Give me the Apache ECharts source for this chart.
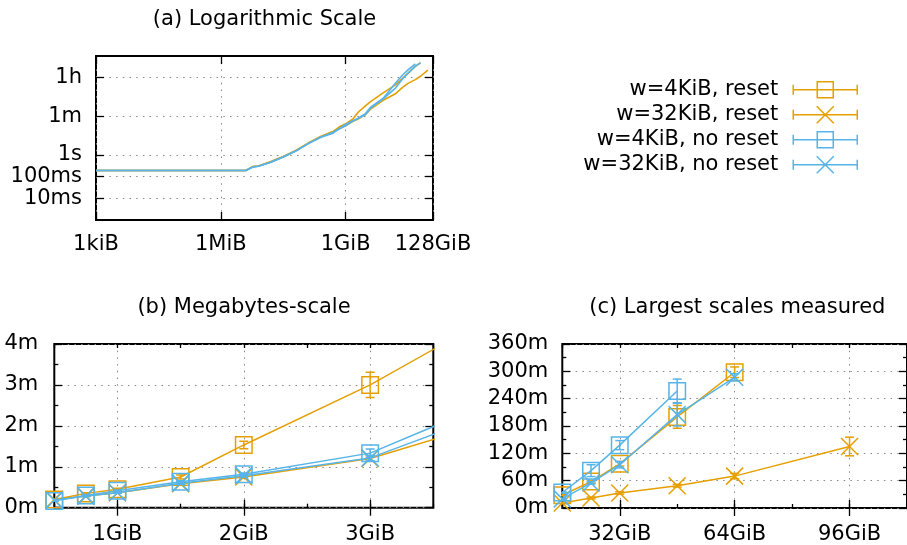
<!DOCTYPE html>
<html><head><meta charset="utf-8">
<script src="https://cdn.jsdelivr.net/npm/echarts@6/dist/echarts.min.js"></script>
<style>html,body{margin:0;padding:0;background:#fff}#c{width:907px;height:545px}</style>
</head><body><div id="c"></div>
<script>
// ---------------- DATA ----------------
const seriesNames = ['w=4KiB, reset', 'w=32KiB, reset', 'w=4KiB, no reset', 'w=32KiB, no reset'];
// problem sizes in KiB
const sizeKiB = [1, 4, 16, 64, 256, 1024, 4096, 6144, 8192, 16384, 32768, 65536, 131072, 262144,
  524288, 786432, 1048576, 1572864, 2097152, 3145728, 4194304, 8388608, 16777216, 25165824,
  33554432, 50331648, 67108864, 100663296];
// run times in seconds
const timeW4Reset = [0.19, 0.19, 0.19, 0.19, 0.19, 0.19, 0.19, 0.29, 0.31, 0.49, 0.85, 1.6, 3.5, 7.0,
  12, 21, 27, 45, 92, 180, 284, 720, 1680, 3480, 5820, 12000, 17880, null];
const timeW32Reset = [0.19, 0.19, 0.19, 0.19, 0.19, 0.19, 0.19, 0.29, 0.30, 0.47, 0.82, 1.55, 3.4, 6.8,
  12, 17, 22, 35, 45, 72, 128, 330, 660, 1320, 1980, 2940, 4200, 8100];
const timeW4NoReset = [0.19, 0.19, 0.19, 0.19, 0.19, 0.19, 0.19, 0.28, 0.30, 0.46, 0.80, 1.5, 3.3, 6.5,
  10, 18, 25, 38, 49, 80, 158, 400, 2040, 4920, 8280, 15420, null, null];
const timeW32NoReset = [0.19, 0.19, 0.19, 0.19, 0.19, 0.19, 0.19, 0.28, 0.30, 0.46, 0.80, 1.5, 3.3, 6.5,
  11, 17, 22, 36, 47, 73, 142, 380, 1200, 3300, 5700, 12300, 17220, null];
// +/- error in seconds
const errW4Reset = [null, null, null, null, null, null, null, null, null, null, null, null, null, null,
  0.5, 1, 1.5, 3, 5.5, 18.6, 15, 30, 90, 200, 300, 1500, 700, null];
const errW32Reset = [null, null, null, null, null, null, null, null, null, null, null, null, null, null,
  0.3, 0.5, 0.8, 1.5, 2, 4, 6, 15, 60, 120, 150, 180, 360, 1230];
const errW4NoReset = [null, null, null, null, null, null, null, null, null, null, null, null, null, null,
  0.3, 0.5, 0.8, 1.5, 2, 6, 10, 20, 90, 780, 600, 1560, null, null];
const errW32NoReset = [null, null, null, null, null, null, null, null, null, null, null, null, null, null,
  0.3, 0.5, 0.8, 1.5, 2, 4, 6, 15, 60, 150, 420, 1500, 480, null];

// tick labels
const logXTicks = [1, 1024, 1048576, 134217728];
const logXLabels = ['1kiB', '1MiB', '1GiB', '128GiB'];
const logYTicks = [0.01, 0.1, 1, 60, 3600];
const logYLabels = ['10ms', '100ms', '1s', '1m', '1h'];
const midXTicks = [1, 2, 3];
const midXLabels = ['1GiB', '2GiB', '3GiB'];
const bigXTicks = [32, 64, 96];
const bigXLabels = ['32GiB', '64GiB', '96GiB'];
const titles = ['(a) Logarithmic Scale', '(b) Megabytes-scale', '(c) Largest scales measured'];

// ---------------- STYLE ----------------
const FONT = 'DejaVu Sans';
const FS = 21;
const C_OR = '#E69F00', C_BL = '#56B4E9';
const colors = [C_OR, C_OR, C_BL, C_BL];
const X_PATH = 'path://M0,0L10,10M10,0L0,10';
const symbols = ['rect', X_PATH, 'rect', X_PATH];
const symSizes = [16.5, 17, 16.5, 17];
const ICON_SQ = 'path://M0,8.5L64,8.5M0,3.5L0,13.5M64,3.5L64,13.5M24,0.5L40,0.5L40,16.5L24,16.5Z';
const ICON_X = 'path://M0,8.5L64,8.5M0,3.5L0,13.5M64,3.5L64,13.5M23.5,0L40.5,17M40.5,0L23.5,17';
const icons = [ICON_SQ, ICON_X, ICON_SQ, ICON_X];
const times = [timeW4Reset, timeW32Reset, timeW4NoReset, timeW32NoReset];
const errs = [errW4Reset, errW32Reset, errW4NoReset, errW32NoReset];

const gridLine = { show: true, lineStyle: { color: '#888', width: 1, type: [1.5, 5.2] } };
const tickStyle = { color: '#000', width: 1.3 };
const labelStyle = { fontFamily: FONT, fontSize: FS, color: '#000' };

function lookup(ticks, labels) {
  return function (v) {
    for (let i = 0; i < ticks.length; i++) {
      if (Math.abs(v - ticks[i]) <= Math.abs(ticks[i]) * 1e-6) return labels[i];
    }
    return '';
  };
}
function minutes(v) { return (v / 60) + 'm'; }

function majorX(grid, pos, opts, withLabel) {
  return Object.assign({
    gridIndex: grid, position: pos,
    axisLine: { show: false },
    axisTick: { show: true, inside: true, length: 8, lineStyle: tickStyle, customValues: opts.ticks },
    axisLabel: withLabel ? Object.assign({ show: true, margin: opts.margin, customValues: opts.ticks, formatter: opts.fmt }, labelStyle) : { show: false },
    splitLine: withLabel ? gridLine : { show: false },
    minorTick: { show: false }
  }, opts.scale);
}
function minorX(grid, pos, scale) {
  return Object.assign({
    gridIndex: grid, position: pos,
    axisLine: { show: false },
    axisTick: { show: true, inside: true, length: 4, lineStyle: tickStyle },
    axisLabel: { show: false },
    splitLine: { show: false }
  }, scale);
}
function valY(grid, pos, scale, fmt, margin, withLabel) {
  return Object.assign({
    gridIndex: grid, position: pos,
    axisLine: { show: false },
    axisTick: { show: true, inside: true, length: 8, lineStyle: tickStyle },
    minorTick: { show: true, splitNumber: 2, length: 4, lineStyle: tickStyle },
    axisLabel: withLabel ? Object.assign({ show: true, margin: margin, formatter: fmt }, labelStyle) : { show: false },
    splitLine: withLabel ? gridLine : { show: false }
  }, scale);
}

const logXScale = { type: 'log', logBase: 2, min: 1, max: 134217728 };
const logYScale = { type: 'log', logBase: 10, min: 0.001, max: 36000 };
const midXScale = { type: 'value', min: 0.5, max: 3.5 };
const bigXScale = { type: 'value', min: 16, max: 112 };

const xAxis = [
  majorX(0, 'bottom', { ticks: logXTicks, fmt: lookup(logXTicks, logXLabels), scale: logXScale, margin: 14.5 }, true),
  majorX(0, 'top', { ticks: logXTicks, fmt: null, scale: logXScale }, false),
  majorX(1, 'bottom', { ticks: midXTicks, fmt: lookup(midXTicks, midXLabels), scale: midXScale, margin: 16 }, true),
  majorX(1, 'top', { ticks: midXTicks, fmt: null, scale: midXScale }, false),
  minorX(1, 'bottom', Object.assign({ interval: 0.5 }, midXScale)),
  minorX(1, 'top', Object.assign({ interval: 0.5 }, midXScale)),
  majorX(2, 'bottom', { ticks: bigXTicks, fmt: lookup(bigXTicks, bigXLabels), scale: bigXScale, margin: 16 }, true),
  majorX(2, 'top', { ticks: bigXTicks, fmt: null, scale: bigXScale }, false),
  minorX(2, 'bottom', Object.assign({ interval: 16 }, bigXScale)),
  minorX(2, 'top', Object.assign({ interval: 16 }, bigXScale))
];

function logY(pos, withLabel) {
  return Object.assign({
    gridIndex: 0, position: pos,
    axisLine: { show: false },
    axisTick: { show: true, inside: true, length: 8, lineStyle: tickStyle, customValues: logYTicks },
    minorTick: { show: false },
    axisLabel: withLabel ? Object.assign({ show: true, margin: 14, customValues: logYTicks, formatter: lookup(logYTicks, logYLabels) }, labelStyle) : { show: false },
    splitLine: withLabel ? gridLine : { show: false }
  }, logYScale);
}
const midYScale = { type: 'value', min: 0, max: 240, interval: 60 };
const bigYScale = { type: 'value', min: 0, max: 21600, interval: 3600 };
const yAxis = [
  logY('left', true),
  logY('right', false),
  valY(1, 'left', midYScale, minutes, 16, true),
  valY(1, 'right', midYScale, minutes, 16, false),
  valY(2, 'left', bigYScale, minutes, 14, true),
  valY(2, 'right', bigYScale, minutes, 14, false)
];

function errRender(color) {
  return function (params, api) {
    const x = api.value(0), lo = api.value(1), hi = api.value(2);
    const pt = api.coord([x, hi]), pb = api.coord([x, lo]);
    const hw = 4.5;
    const st = { stroke: color, lineWidth: 1.5, fill: null };
    return { type: 'group', children: [
      { type: 'line', shape: { x1: pt[0], y1: pt[1], x2: pb[0], y2: pb[1] }, style: st },
      { type: 'line', shape: { x1: pt[0] - hw, y1: pt[1], x2: pt[0] + hw, y2: pt[1] }, style: st },
      { type: 'line', shape: { x1: pb[0] - hw, y1: pb[1], x2: pb[0] + hw, y2: pb[1] }, style: st }
    ] };
  };
}

const series = [];
for (let k = 0; k < 4; k++) {
  const full = [], gib = [], eb = [];
  sizeKiB.forEach(function (s, i) {
    const t = times[k][i];
    if (t == null) return;
    full.push([s, t]);
    gib.push([s / 1048576, t]);
    if (errs[k][i] != null) eb.push([s / 1048576, t - errs[k][i], t + errs[k][i]]);
  });
  const c = colors[k];
  series.push({ type: 'line', name: seriesNames[k], xAxisIndex: 0, yAxisIndex: 0, data: full,
    showSymbol: false, symbol: 'none', lineStyle: { color: c, width: 1.6 }, itemStyle: { color: c }, z: 2 + k });
  [[2, 2], [6, 4]].forEach(function (ax) {
    series.push({ type: 'custom', name: seriesNames[k], xAxisIndex: ax[0], yAxisIndex: ax[1], data: eb,
      renderItem: errRender(c), clip: true, z: 2 + k, silent: true });
    series.push({ type: 'line', name: seriesNames[k], xAxisIndex: ax[0], yAxisIndex: ax[1], data: gib,
      symbol: symbols[k], symbolSize: symSizes[k], showSymbol: true, clip: true,
      lineStyle: { color: c, width: 1.5 },
      itemStyle: { color: 'rgba(0,0,0,0)', borderColor: c, borderWidth: 1.5 }, z: 2 + k });
  });
}

const titleBase = { fontFamily: FONT, fontSize: FS, fontWeight: 'normal', color: '#000' };
const option = {
  animation: false,
  backgroundColor: '#fff',
  title: [
    { text: titles[0], left: 264.5, top: 9, padding: 0, textAlign: 'center', textStyle: titleBase },
    { text: titles[1], left: 244, top: 297, padding: 0, textAlign: 'center', textStyle: titleBase },
    { text: titles[2], left: 737.3, top: 297, padding: 0, textAlign: 'center', textStyle: titleBase }
  ],
  legend: {
    orient: 'vertical', align: 'right', right: 49, top: 79.3, padding: 0,
    itemWidth: 64, itemHeight: 17, itemGap: 4, selectedMode: false,
    textStyle: { fontFamily: FONT, fontSize: FS, color: '#000', lineHeight: 18, padding: [0, 10, 0, 0] },
    data: seriesNames.map(function (n, k) {
      return { name: n, icon: icons[k], itemStyle: { color: 'rgba(0,0,0,0)', borderColor: colors[k], borderWidth: 1.5 } };
    })
  },
  grid: [
    { left: 96, top: 56, width: 337, height: 164, show: true, borderColor: '#000', borderWidth: 2, backgroundColor: 'transparent' },
    { left: 54.3, top: 344, width: 379, height: 163.7, show: true, borderColor: '#000', borderWidth: 2, backgroundColor: 'transparent' },
    { left: 562.3, top: 344, width: 350, height: 164.3, show: true, borderColor: '#000', borderWidth: 2, backgroundColor: 'transparent' }
  ],
  xAxis: xAxis,
  yAxis: yAxis,
  series: series
};
const chart = echarts.init(document.getElementById('c'), null, { renderer: 'canvas' });
chart.setOption(option);
</script>
</body></html>
